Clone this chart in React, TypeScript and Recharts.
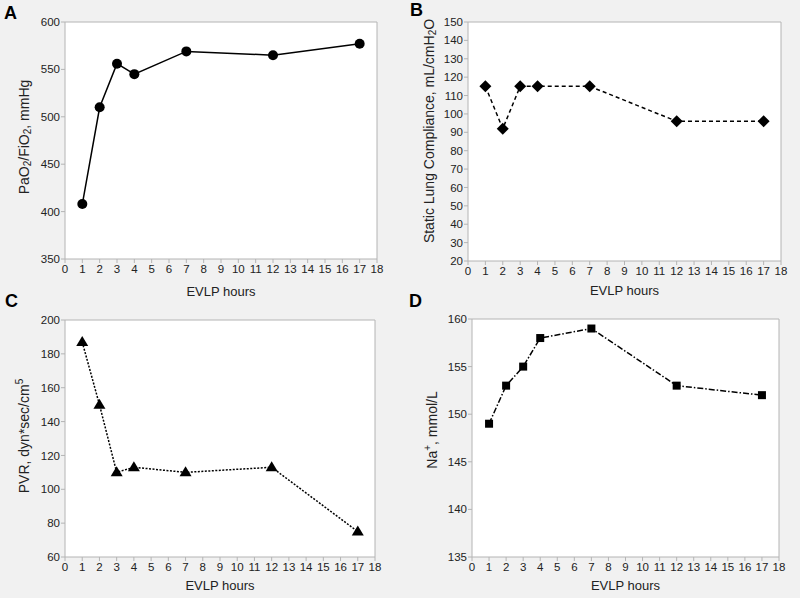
import React from 'react';
import { LineChart, Line, XAxis, YAxis, CartesianGrid, Label } from 'recharts';

// EVLP time points (hours)
const hours = [1, 2, 3, 4, 7, 12, 17];

// panel values
const pfRatio = [408, 510, 556, 545, 569, 565, 577];
const compliance = [115, 92, 115, 115, 115, 96, 96];
const pvr = [187, 150, 110, 113, 110, 113, 75];
const sodium = [149, 153, 155, 158, 159, 153, 152];

// tick labels
const xTicks = [0, 1, 2, 3, 4, 5, 6, 7, 8, 9, 10, 11, 12, 13, 14, 15, 16, 17, 18];
const pfTicks = [350, 400, 450, 500, 550, 600];
const complianceTicks = [20, 30, 40, 50, 60, 70, 80, 90, 100, 110, 120, 130, 140, 150];
const pvrTicks = [60, 80, 100, 120, 140, 160, 180, 200];
const sodiumTicks = [135, 140, 145, 150, 155, 160];

// axis titles, split into runs: 0 = normal, 1 = subscript, -1 = superscript
type Run = [string, number];
const pfTitle: Run[] = [['PaO', 0], ['2', 1], ['/FiO', 0], ['2', 1], [', mmHg', 0]];
const complianceTitle: Run[] = [['Static Lung Compliance, mL/cmH', 0], ['2', 1], ['O', 0]];
const pvrTitle: Run[] = [['PVR, dyn*sec/cm', 0], ['5', -1]];
const sodiumTitle: Run[] = [['Na', 0], ['+', -1], [', mmol/L', 0]];

const FONT = '"Liberation Sans", Arial, Helvetica, sans-serif';
const GRAY = '#b4b4b4';
const TEXT = '#222';

type Shape = 'circle' | 'diamond' | 'triangle' | 'square';

const Marker = ({ cx, cy, shape }: { cx: number; cy: number; shape: Shape }) => {
  if (cx == null || cy == null) return null;
  if (shape === 'circle') return <circle cx={cx} cy={cy} r={5} fill="#000" />;
  if (shape === 'diamond')
    return <polygon points={`${cx},${cy - 6} ${cx + 6},${cy} ${cx},${cy + 6} ${cx - 6},${cy}`} fill="#000" />;
  if (shape === 'triangle')
    return <polygon points={`${cx},${cy - 6} ${cx + 6},${cy + 4} ${cx - 6},${cy + 4}`} fill="#000" />;
  return <rect x={cx - 4} y={cy - 4} width={8} height={8} fill="#000" />;
};

const renderRuns = (runs: Run[]) => {
  let level = 0;
  return runs.map(([t, kind], i) => {
    const target = kind === 1 ? 3 : kind === -1 ? -5 : 0;
    const dy = target - level;
    level = target;
    return (
      <tspan key={i} dy={dy} fontSize={kind === 0 ? undefined : 10}>
        {t}
      </tspan>
    );
  });
};

interface PanelProps {
  letter: string;
  left: number;
  top: number;
  height: number;
  values: number[];
  domain: [number, number];
  yTicks: number[];
  margin: { top: number; right: number; bottom: number; left: number };
  dash?: string;
  shape: Shape;
  yTitle: Run[];
  yLabelX: number;
  yLabelY: number;
  xLabelGap: number;
  letterX: number;
  letterY: number;
}

const Panel = (p: PanelProps) => {
  const data = hours.map((h, i) => ({ h, v: p.values[i] }));
  return (
    <div style={{ position: 'absolute', left: p.left, top: p.top, width: 400, height: p.height }}>
      <div
        style={{
          position: 'absolute',
          left: p.letterX,
          top: p.letterY,
          fontFamily: FONT,
          fontWeight: 'bold',
          fontSize: 18,
          lineHeight: '18px',
          color: '#000',
        }}
      >
        {p.letter}
      </div>
      <LineChart width={400} height={p.height} data={data} margin={p.margin}>
        <CartesianGrid
          fill="#fff"
          stroke={GRAY}
          horizontalValues={[p.domain[1]]}
          verticalValues={[18]}
        />
        <XAxis
          type="number"
          dataKey="h"
          domain={[0, 18]}
          ticks={xTicks}
          interval={0}
          height={30}
          tickSize={4}
          tickMargin={2}
          stroke={GRAY}
          tick={{ fontSize: 11.5, fill: TEXT, fontFamily: FONT }}
        >
          <Label
            content={({ viewBox }: any) => (
              <text
                x={viewBox.x + viewBox.width / 2}
                y={viewBox.y + p.xLabelGap}
                textAnchor="middle"
                dominantBaseline="central"
                fontSize={13}
                fontFamily={FONT}
                fill={TEXT}
              >
                EVLP hours
              </text>
            )}
          />
        </XAxis>
        <YAxis
          type="number"
          domain={p.domain}
          ticks={p.yTicks}
          interval={0}
          width={40}
          tickSize={4}
          tickMargin={1}
          stroke={GRAY}
          allowDataOverflow
          tick={{ fontSize: 11.5, fill: TEXT, fontFamily: FONT }}
        >
          <Label
            content={() => (
              <text
                x={p.yLabelX}
                y={p.yLabelY}
                transform={`rotate(-90 ${p.yLabelX} ${p.yLabelY})`}
                textAnchor="middle"
                dominantBaseline="central"
                fontSize={14}
                fontFamily={FONT}
                fill={TEXT}
              >
                {renderRuns(p.yTitle)}
              </text>
            )}
          />
        </YAxis>
        <Line
          dataKey="v"
          stroke="#000"
          strokeWidth={1.5}
          strokeDasharray={p.dash}
          isAnimationActive={false}
          dot={(d: any) => <Marker key={`m-${d.index}`} cx={d.cx} cy={d.cy} shape={p.shape} />}
          activeDot={false}
        />
      </LineChart>
    </div>
  );
};

export default function App() {
  return (
    <div style={{ position: 'absolute', left: 0, top: 0, width: 800, height: 598, background: '#f1f1f1', overflow: 'hidden' }}>
      <Panel
        letter="A"
        left={0}
        top={0}
        height={300}
        values={pfRatio}
        domain={[350, 600]}
        yTicks={pfTicks}
        margin={{ top: 22, right: 23, bottom: 11, left: 25 }}
        shape="circle"
        yTitle={pfTitle}
        yLabelX={24}
        yLabelY={137}
        xLabelGap={32}
        letterX={4}
        letterY={4}
      />
      <Panel
        letter="B"
        left={400}
        top={0}
        height={300}
        values={compliance}
        domain={[20, 150]}
        yTicks={complianceTicks}
        margin={{ top: 22, right: 19, bottom: 9, left: 28 }}
        dash="4 3"
        shape="diamond"
        yTitle={complianceTitle}
        yLabelX={29}
        yLabelY={131}
        xLabelGap={29}
        letterX={10}
        letterY={1}
      />
      <Panel
        letter="C"
        left={0}
        top={300}
        height={298}
        values={pvr}
        domain={[60, 200]}
        yTicks={pvrTicks}
        margin={{ top: 20, right: 25, bottom: 11, left: 25 }}
        dash="2 1.5"
        shape="triangle"
        yTitle={pvrTitle}
        yLabelX={24}
        yLabelY={136}
        xLabelGap={28}
        letterX={5}
        letterY={-8}
      />
      <Panel
        letter="D"
        left={400}
        top={300}
        height={298}
        values={sodium}
        domain={[135, 160]}
        yTicks={sodiumTicks}
        margin={{ top: 19, right: 21, bottom: 11, left: 32 }}
        dash="6 2 1.5 2"
        shape="square"
        yTitle={sodiumTitle}
        yLabelX={32}
        yLabelY={130}
        xLabelGap={28}
        letterX={9}
        letterY={-8}
      />
    </div>
  );
}
